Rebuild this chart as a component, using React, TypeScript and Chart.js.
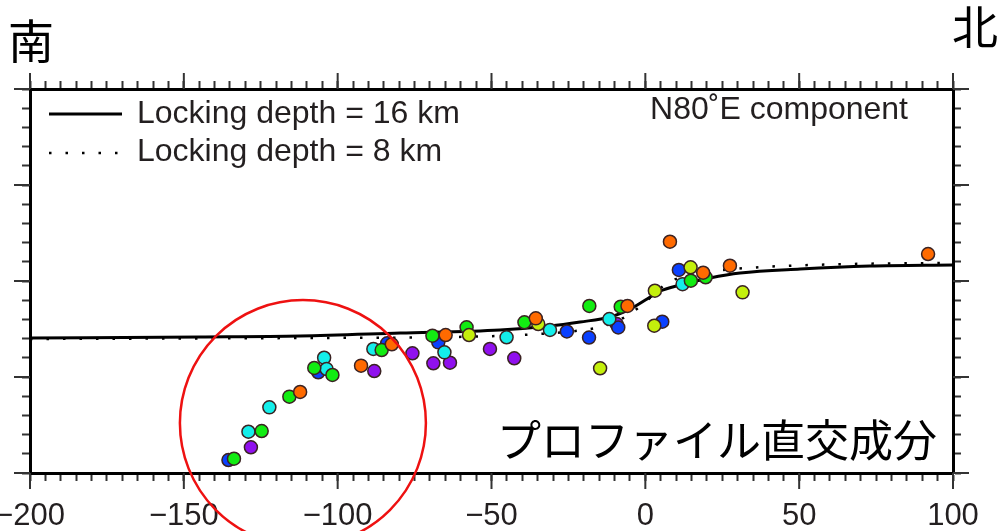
import React, { useEffect, useRef } from 'react';
import { Chart, registerables } from 'chart.js';

Chart.register(...registerables);

// ---- axis ranges / ticks ----
const X_MIN = -200;
const X_MAX = 100;
const Y_MIN = -20;
const Y_MAX = 20;
const X_MINOR_STEP = 5;
const X_MAJOR_STEP = 50;
const Y_MINOR_STEP = 2;
const Y_MAJOR_STEP = 10;

// ---- model curves ----
const solidX = [-200, -144.7, -112.2, -79.7, -47.2, -31.0, -21.2, -11.5, -5.0, 0, 4.9, 11.3, 21.0, 30.8, 50.3, 73.0, 100];
const solidY = [-5.94, -5.83, -5.73, -5.42, -5.10, -4.69, -4.27, -3.75, -2.92, -1.98, -1.04, -0.42, 0.31, 0.83, 1.25, 1.56, 1.67];

const dotX = [-200, -112.2, -61.9, -40.7, -19.9, -14.7, -9.9, -5.0, 0, 3.6, 7.1, 14.5, 22.0, 38.2, 66.5, 100];
const dotY = [-6.04, -5.94, -5.83, -5.63, -5.10, -4.79, -4.27, -3.44, -2.19, -1.15, -0.21, 0.63, 1.04, 1.46, 1.77, 1.88];

// ---- observations, grouped by colour ----
const purpleX = [-128.2, -88.1, -75.7, -68.9, -63.5, -50.5, -42.6, -9.3];
const purpleY = [-17.32, -9.38, -7.53, -8.57, -8.51, -7.08, -8.05, -4.48];

const blueX = [-135.5, -106.3, -83.9, -67.3, -25.5, -18.3, -8.8, 5.5, 10.9];
const blueY = [-18.65, -9.51, -6.49, -6.39, -5.26, -5.89, -4.84, -4.24, 1.15];

const cyanX = [-129.0, -122.2, -104.4, -103.6, -88.4, -65.3, -45.1, -31.0, -11.7, 12.1];
const cyanY = [-15.70, -13.16, -7.99, -9.17, -7.08, -7.43, -5.86, -5.10, -3.96, -0.33];

const greenX = [-133.7, -124.7, -115.7, -107.6, -101.7, -85.7, -69.2, -58.1, -39.3, -18.2, -8.0, 14.8, 19.6];
const greenY = [-18.51, -15.63, -12.05, -9.06, -9.79, -7.19, -5.70, -4.82, -4.30, -2.60, -2.68, 0.03, 0.39];

const yellowX = [-57.3, -34.8, -14.7, 3.1, 2.9, 14.7, 31.6];
const yellowY = [-5.63, -4.48, -9.09, -1.01, -4.66, 1.43, -1.18];

const orangeX = [-112.2, -92.4, -82.4, -64.9, -35.6, -5.8, 8.0, 18.8, 27.5, 91.9];
const orangeY = [-11.56, -8.82, -6.59, -5.63, -3.89, -2.60, 4.09, 0.86, 1.59, 2.81];

// ---- texts ----
const legendLabels = ['Locking depth = 16 km', 'Locking depth = 8 km'];
const componentLabel = 'N80\u02DAE component';
const profileLabel = 'プロファイル直交成分';
const southLabel = '南';
const northLabel = '北';

// highlighted region (data coords of the circle centre)
const circleCenter = { x: -111.3, y: -14.8 };

const LATIN = '"Liberation Sans", Arial, Helvetica, sans-serif';
const CJK = '"Noto Sans CJK JP", "Noto Sans CJK SC", sans-serif';
const TICK_COLOR = '#333';
const TEXT_COLOR = '#231f20';
const DOT_DASH = [2.5, 14];

const zip = (xs: number[], ys: number[]) => xs.map((x, i) => ({ x, y: ys[i] }));

const fmt = (v: number) => (v < 0 ? '\u2212' + Math.abs(v) : String(v));

const pointDataset = (label: string, xs: number[], ys: number[], color: string) => ({
  label,
  data: zip(xs, ys),
  type: 'scatter' as const,
  pointRadius: 6.5,
  pointBackgroundColor: color,
  pointBorderColor: '#3a2222',
  pointBorderWidth: 1.5,
  showLine: false,
  order: 1,
});

const overlayPlugin = {
  id: 'overlay',
  afterDraw(chart: any) {
    const ctx = chart.ctx as CanvasRenderingContext2D;
    const { left, right, top, bottom } = chart.chartArea;
    const xs = chart.scales.x;
    const ys = chart.scales.y;
    ctx.save();

    // major ticks (longer)
    ctx.strokeStyle = TICK_COLOR;
    ctx.lineWidth = 2;
    const seg = (x1: number, y1: number, x2: number, y2: number) => {
      ctx.beginPath();
      ctx.moveTo(x1, y1);
      ctx.lineTo(x2, y2);
      ctx.stroke();
    };
    xs.ticks.forEach((t: any) => {
      if (Math.abs(t.value % X_MAJOR_STEP) < 1e-9) {
        const px = xs.getPixelForValue(t.value);
        seg(px, bottom, px, bottom + 16);
        seg(px, top, px, top - 16);
      }
    });
    ys.ticks.forEach((t: any) => {
      if (Math.abs(t.value % Y_MAJOR_STEP) < 1e-9) {
        const py = ys.getPixelForValue(t.value);
        seg(left - 16, py, left, py);
        seg(right, py, right + 16, py);
      }
    });

    // legend
    ctx.strokeStyle = '#000';
    ctx.lineWidth = 3;
    seg(left + 19, top + 25, left + 92, top + 25);
    ctx.lineWidth = 2.5;
    ctx.setLineDash(DOT_DASH);
    seg(left + 19, top + 64, left + 92, top + 64);
    ctx.setLineDash([]);
    ctx.fillStyle = TEXT_COLOR;
    ctx.font = `32px ${LATIN}`;
    ctx.textAlign = 'left';
    ctx.textBaseline = 'middle';
    ctx.fillText(legendLabels[0], left + 107, top + 25);
    ctx.fillText(legendLabels[1], left + 107, top + 63);

    ctx.textAlign = 'right';
    ctx.fillText(componentLabel, right - 45, top + 21);

    // japanese annotation
    ctx.fillStyle = '#000';
    ctx.textAlign = 'left';
    ctx.font = `44px ${CJK}`;
    ctx.fillText(profileLabel, 497, 440);

    // south / north
    ctx.font = `46px ${CJK}`;
    ctx.textAlign = 'center';
    ctx.fillText(southLabel, 31, 41);
    ctx.fillText(northLabel, 975, 27);

    // red circle
    ctx.strokeStyle = '#ee1111';
    ctx.lineWidth = 2.5;
    ctx.beginPath();
    ctx.arc(xs.getPixelForValue(circleCenter.x), ys.getPixelForValue(circleCenter.y), 123, 0, Math.PI * 2);
    ctx.stroke();

    ctx.restore();
  },
};

const fixSize = (prop: 'width' | 'height', size: number) => (scale: any) => {
  scale[prop] = size;
  scale.paddingLeft = 0;
  scale.paddingRight = 0;
  scale.paddingTop = 0;
  scale.paddingBottom = 0;
};

const baseGrid = {
  drawOnChartArea: false,
  drawTicks: true,
  tickLength: 8,
  tickWidth: 2,
  tickColor: TICK_COLOR,
};
const baseBorder = { display: true, color: '#000', width: 3 };

export default function App() {
  const ref = useRef<HTMLCanvasElement | null>(null);

  useEffect(() => {
    if (!ref.current) return;
    const chart = new Chart(ref.current, {
      type: 'scatter',
      data: {
        datasets: [
          pointDataset('orange', orangeX, orangeY, '#ff6a00'),
          pointDataset('yellowgreen', yellowX, yellowY, '#c4ef0c'),
          pointDataset('green', greenX, greenY, '#12ec12'),
          pointDataset('cyan', cyanX, cyanY, '#14eeea'),
          pointDataset('blue', blueX, blueY, '#0a40ff'),
          pointDataset('purple', purpleX, purpleY, '#9010ee'),
          {
            label: legendLabels[0],
            data: zip(solidX, solidY),
            type: 'line' as const,
            showLine: true,
            borderColor: '#000',
            borderWidth: 3,
            pointRadius: 0,
            cubicInterpolationMode: 'monotone' as const,
            order: 10,
          },
          {
            label: legendLabels[1],
            data: zip(dotX, dotY),
            type: 'line' as const,
            showLine: true,
            borderColor: '#000',
            borderWidth: 2.5,
            borderDash: DOT_DASH,
            pointRadius: 0,
            cubicInterpolationMode: 'monotone' as const,
            order: 11,
          },
        ] as any,
      },
      options: {
        responsive: false,
        animation: false,
        events: [],
        layout: { padding: 0, autoPadding: false } as any,
        plugins: { legend: { display: false }, tooltip: { enabled: false } },
        scales: {
          x: {
            type: 'linear',
            position: 'bottom',
            min: X_MIN,
            max: X_MAX,
            afterFit: fixSize('height', 58),
            ticks: {
              stepSize: X_MINOR_STEP,
              autoSkip: false,
              maxRotation: 0,
              minRotation: 0,
              padding: 17,
              color: TEXT_COLOR,
              font: { family: LATIN, size: 31 },
              callback: (v: any) => (Math.abs(Number(v) % X_MAJOR_STEP) < 1e-9 ? fmt(Number(v)) : ''),
            },
            grid: baseGrid,
            border: baseBorder,
          },
          x2: {
            type: 'linear',
            position: 'top',
            min: X_MIN,
            max: X_MAX,
            afterFit: fixSize('height', 89),
            ticks: { stepSize: X_MINOR_STEP, autoSkip: false, display: false },
            grid: baseGrid,
            border: baseBorder,
          },
          y: {
            type: 'linear',
            position: 'left',
            min: Y_MIN,
            max: Y_MAX,
            afterFit: fixSize('width', 30),
            ticks: { stepSize: Y_MINOR_STEP, autoSkip: false, display: false },
            grid: baseGrid,
            border: baseBorder,
          },
          y2: {
            type: 'linear',
            position: 'right',
            min: Y_MIN,
            max: Y_MAX,
            afterFit: fixSize('width', 48),
            ticks: { stepSize: Y_MINOR_STEP, autoSkip: false, display: false },
            grid: baseGrid,
            border: baseBorder,
          },
        } as any,
      },
      plugins: [overlayPlugin],
    });
    return () => chart.destroy();
  }, []);

  return (
    <div style={{ position: 'absolute', left: 0, top: 0, width: 1001, height: 531, background: '#fff' }}>
      <canvas ref={ref} width={1001} height={531} style={{ display: 'block', width: 1001, height: 531 }} />
    </div>
  );
}
